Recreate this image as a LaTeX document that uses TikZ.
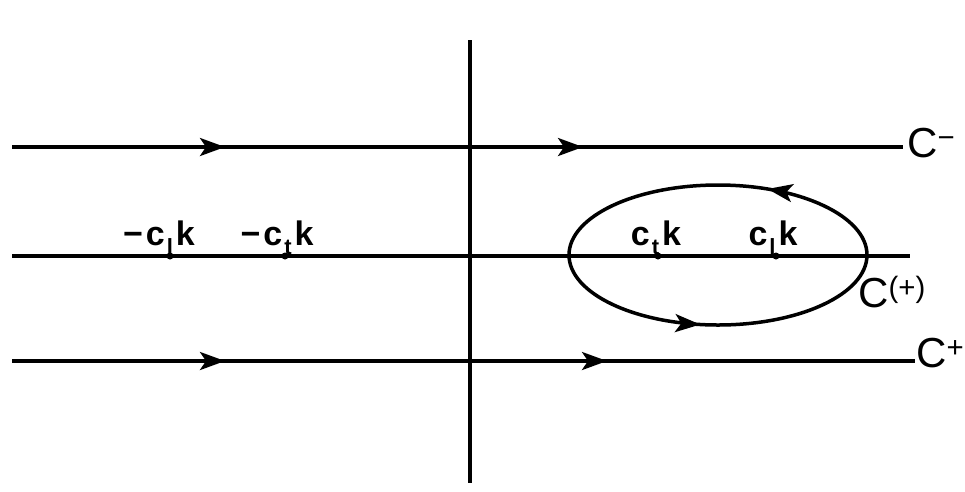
\documentclass[tikz,border=0pt]{standalone}
\usepackage{fontspec}
\setmainfont{Liberation Sans}
\usetikzlibrary{arrows.meta,decorations.markings}
\newcommand\sbx[1]{\hspace{2pt}\raisebox{-9pt}{\fontsize{22}{22}\selectfont #1}\hspace{3pt}}
\begin{document}
\begin{tikzpicture}[x=1pt,y=-1pt,
  ln/.style={line width=3.5pt},
  arr/.style={line width=3.5pt,-{Stealth[length=25pt,width=18pt,inset=6pt]}},
  pt/.style={circle,fill=black,inner sep=0pt,minimum size=7pt},
  lab/.style={font=\fontsize{34}{36}\selectfont\bfseries,anchor=base,inner sep=0pt},
  clab/.style={font=\fontsize{42}{44}\selectfont,anchor=base west,inner sep=0pt},
  emark/.style={postaction={decorate},decoration={markings,
    mark=at position 0.18 with {\arrow{Stealth[length=25pt,width=18pt,inset=6pt]}},
    mark=at position 0.725 with {\arrow{Stealth[length=25pt,width=18pt,inset=6pt]}}}}]
\useasboundingbox (0,0) rectangle (965,491);
% axis
\coordinate (vtop) at (470,40);
\coordinate (vbot) at (470,483);
\draw[ln] (vtop) -- (vbot);
% top line
\coordinate (t0) at (12,147);
\coordinate (t1) at (225,147);
\coordinate (t2) at (583,147);
\coordinate (t3) at (903,147);
\draw[ln] (t0) -- (t3);
\draw[arr] (t0) -- (t1);
\draw[arr] (t1) -- (t2);
\node[clab] (cm) at (907,157) {C\textsuperscript{−}};
% middle line
\coordinate (m0) at (12,256);
\coordinate (m1) at (910,256);
\draw[ln] (m0) -- (m1);
\node[pt] (p1) at (170,256) {};
\node[pt] (p2) at (285,256) {};
\node[pt] (p3) at (658,256) {};
\node[pt] (p4) at (776,256) {};
\node[lab] (l1) at (159,245) {−\hspace{3pt}c\sbx{l}k};
\node[lab] (l2) at (277,245) {−\hspace{3pt}c\sbx{t}k};
\node[lab] (l3) at (656,245) {c\sbx{t}k};
\node[lab] (l4) at (773,245) {c\sbx{l}k};
% bottom line
\coordinate (b0) at (12,361);
\coordinate (b1) at (225,361);
\coordinate (b2) at (607,361);
\coordinate (b3) at (915,361);
\draw[ln] (b0) -- (b3);
\draw[arr] (b0) -- (b1);
\draw[arr] (b1) -- (b2);
\node[clab] (cp) at (916,367) {C\textsuperscript{+}};
% contour
\coordinate (ec) at (718,255);
\draw[ln,emark] (867,255) arc[start angle=0,end angle=-360,x radius=149,y radius=70];
\node[clab] (cpp) at (858,307) {C\textsuperscript{(+)}};
\end{tikzpicture}
\end{document}
